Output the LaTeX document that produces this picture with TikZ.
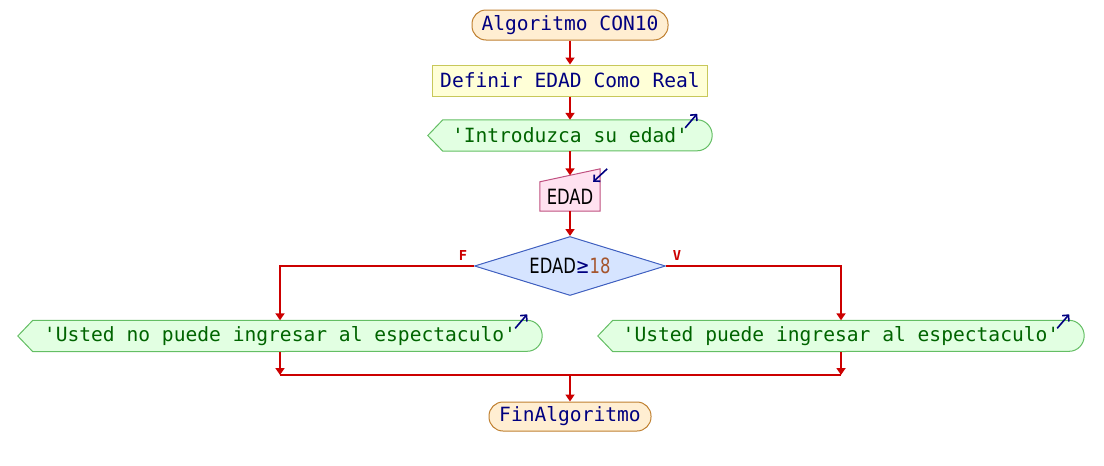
\documentclass[tikz,border=0pt]{standalone}
\usepackage{fontspec}
\setmonofont{DejaVu Sans Mono}
\newfontfamily\condfont[FakeStretch=0.78]{DejaVu Sans}
\usetikzlibrary{arrows.meta,calc,shapes.geometric,backgrounds}
\definecolor{flowred}{RGB}{204,0,0}
\definecolor{navytxt}{RGB}{0,0,128}
\definecolor{greentxt}{RGB}{0,100,0}
\definecolor{numbrown}{RGB}{165,85,45}
\definecolor{termfill}{RGB}{255,238,210}
\definecolor{termdraw}{RGB}{192,128,48}
\definecolor{deffill}{RGB}{255,255,215}
\definecolor{defdraw}{RGB}{200,200,90}
\definecolor{outfill}{RGB}{226,255,226}
\definecolor{outdraw}{RGB}{100,190,100}
\definecolor{infill}{RGB}{255,226,240}
\definecolor{indraw}{RGB}{192,80,128}
\definecolor{condfill}{RGB}{214,228,255}
\definecolor{conddraw}{RGB}{64,96,192}
\newcommand\monof{\fontsize{19.6}{22}\selectfont\ttfamily}
\newcommand\drawoutput[1]{%
  \begin{scope}[on background layer]
  \draw[outline] (#1.west) -- ($(#1.north west)+(15,0)$) -- ($(#1.north east)+(-15,0)$)
    arc[start angle=90,end angle=-90,x radius=15pt,y radius=15.5pt]
    -- ($(#1.south west)+(15,0)$) -- cycle;
  \end{scope}
  \draw[icon] ($(#1.north east)+(-27,8)$) -- ($(#1.north east)+(-15,-6)$);
}
\begin{document}
\begin{tikzpicture}[x=1pt,y=-1pt,
  term/.style={rectangle,rounded corners=14pt,draw=termdraw,fill=termfill,line width=1pt,
    minimum width=196pt,minimum height=30pt,inner sep=0pt,font=\monof,text=navytxt},
  defbox/.style={rectangle,draw=defdraw,fill=deffill,line width=1pt,
    minimum width=275pt,minimum height=31pt,inner sep=0pt,font=\monof,text=navytxt},
  outnode/.style={rectangle,minimum height=31pt,inner sep=0pt,font=\monof,text=greentxt},
  outline/.style={draw=outdraw,fill=outfill,line width=1pt},
  innode/.style={rectangle,minimum width=60pt,minimum height=29pt,inner sep=0pt,
    font=\fontsize{21}{24}\condfont,text=black},
  condnode/.style={diamond,draw=conddraw,fill=condfill,line width=1pt,aspect=3.2,
    minimum width=191pt,minimum height=59pt,inner sep=0pt,
    font=\fontsize{21}{24}\condfont,text=black},
  flowline/.style={draw=flowred,line width=2pt},
  flowarrow/.style={flowline,-{Triangle[width=9pt,length=7pt]}},
  icon/.style={draw=navytxt,line width=1.6pt,-{Straight Barb[length=4.5pt,width=9pt]}},
  branchlbl/.style={font=\fontsize{13.7}{15}\selectfont\ttfamily\bfseries,text=flowred,inner sep=0pt}
]
\useasboundingbox (0,0) rectangle (1104,466);

\node[term] (start) at (570,25) {Algoritmo CON10};
\node[defbox] (def) at (570,80.5) {Definir EDAD Como Real};
\node[outnode,minimum width=284pt] (outA) at (570,135.5) {'Introduzca su edad'};
\drawoutput{outA}

\node[innode] (inp) at (570,196.5) {EDAD};
\begin{scope}[on background layer]
\draw[draw=indraw,fill=infill,line width=1pt] (inp.south west) -- (inp.north west)
  -- ($(inp.north east)+(0,-13)$) -- (inp.south east) -- cycle;
\end{scope}
\draw[icon] ($(inp.north east)+(7,-13)$) -- ($(inp.north east)+(-7,0)$);

\node[condnode] (cond) at (570,266) {EDAD{\color{navytxt}≥}{\color{numbrown}18}};
\node[branchlbl] (lblF) at (463,256) {F};
\node[branchlbl] (lblV) at (677,256) {V};

\node[outnode,minimum width=524pt] (outF) at (280,336) {'Usted no puede ingresar al espectaculo'};
\drawoutput{outF}
\node[outnode,minimum width=486pt] (outV) at (841,336) {'Usted puede ingresar al espectaculo'};
\drawoutput{outV}

\node[term,minimum width=162pt,minimum height=29pt] (fin) at (570,416.5) {FinAlgoritmo};

\coordinate (mL) at (280,375);
\coordinate (mR) at (841,375);
\coordinate (mC) at (570,375);

\draw[flowarrow] (start.south) -- (def.north);
\draw[flowarrow] (def.south) -- (outA.north);
\draw[flowarrow] (outA.south) -- ($(inp.north)+(0,-6.5)$);
\draw[flowarrow] (inp.south) -- (cond.north);
\draw[flowarrow] (cond.west) -| (outF.north);
\draw[flowarrow] (cond.east) -| (outV.north);
\draw[flowarrow] (outF.south) -- (mL);
\draw[flowarrow] (outV.south) -- (mR);
\draw[flowline] (mL) -- (mR);
\draw[flowarrow] (mC) -- (fin.north);
\end{tikzpicture}
\end{document}
